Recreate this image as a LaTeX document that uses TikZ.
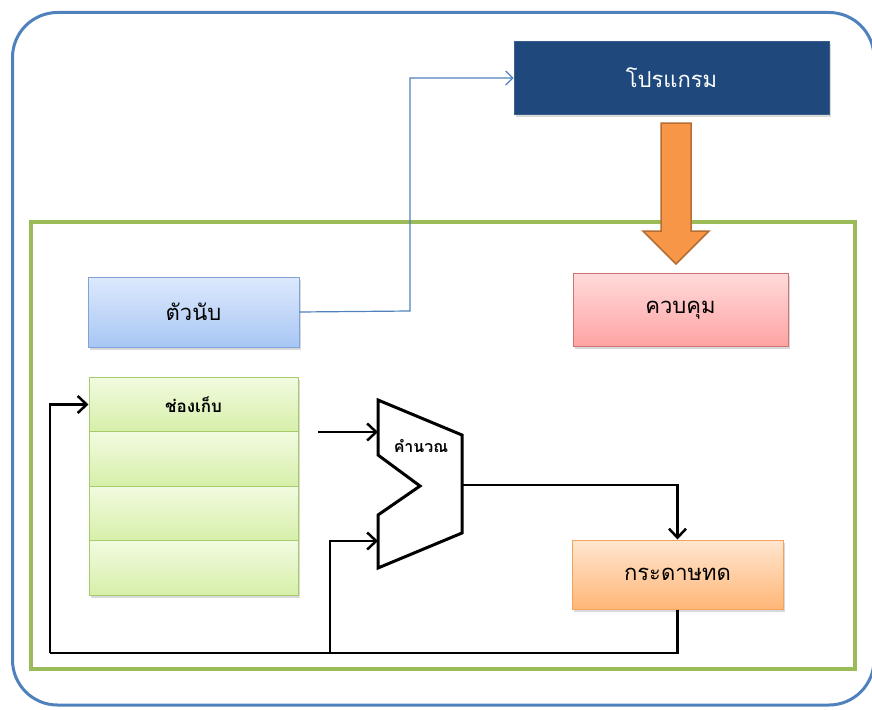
\documentclass[tikz,border=0pt]{standalone}
\usepackage{fontspec}
\newfontfamily\thaifont[Script=Thai]{Loma}
\usetikzlibrary{arrows.meta,shadows}
\definecolor{outerblue}{HTML}{4F81BD}
\definecolor{greenline}{HTML}{9BBB59}
\definecolor{progfill}{HTML}{1F497D}
\definecolor{progline}{HTML}{3A5F8F}
\definecolor{cntTop}{HTML}{DDE9FD}
\definecolor{cntBot}{HTML}{A8C6F4}
\definecolor{cntLine}{HTML}{7FA3D8}
\definecolor{ctlTop}{HTML}{FFDADA}
\definecolor{ctlBot}{HTML}{FFA3A3}
\definecolor{ctlLine}{HTML}{CF7272}
\definecolor{regTop}{HTML}{F2FBE0}
\definecolor{regBot}{HTML}{D6EFA9}
\definecolor{regLine}{HTML}{A6CB6A}
\definecolor{scrTop}{HTML}{FFE6D0}
\definecolor{scrBot}{HTML}{FFB677}
\definecolor{scrLine}{HTML}{F2A35C}
\definecolor{arrFill}{HTML}{F79646}
\definecolor{arrLine}{HTML}{B66D31}
\definecolor{linkblue}{HTML}{4F81BD}
\begin{document}
\begin{tikzpicture}[x=1pt,y=-1pt,
  box/.style={rectangle,inner sep=0pt,font=\thaifont\fontsize{22}{26}\selectfont,
     drop shadow={shadow xshift=1.5pt,shadow yshift=-2.5pt,opacity=0.3}},
  regbox/.style={box,minimum width=209pt,minimum height=54.5pt,draw=regLine,line width=1pt,
     top color=regTop,bottom color=regBot},
  wire/.style={black,line width=2.5pt},
  wirearrow/.style={wire,-{Straight Barb[length=9pt,width=17pt,line width=2.5pt]}}
  ]
\useasboundingbox (0,0) rectangle (872,709);
% outer frame
\draw[outerblue,line width=3pt,rounded corners=45pt] (12.5,12.5) rectangle (874,705);
% green frame
\draw[greenline,line width=3.5pt] (31,222) rectangle (855,669);
% program
\node[box,draw=progline,line width=1pt,fill=progfill,text=white,
  minimum width=315pt,minimum height=72pt] (prog) at (671.5,78) {โปรแกรม};
% counter
\node[box,draw=cntLine,line width=1pt,top color=cntTop,bottom color=cntBot,
  minimum width=211pt,minimum height=70pt] (cnt) at (193.5,312) {ตัวนับ};
% control
\node[box,draw=ctlLine,line width=1pt,top color=ctlTop,bottom color=ctlBot,
  minimum width=215pt,minimum height=73pt] (ctl) at (680.5,310) {ควบคุม};
% scratch
\node[box,draw=scrLine,line width=1pt,top color=scrTop,bottom color=scrBot,
  minimum width=211pt,minimum height=69pt] (scr) at (677.5,574.5) {กระดาษทด};
% registers
\node[regbox,font=\thaifont\bfseries\fontsize{17}{20}\selectfont] (r1) at (193.5,404.5) {ช่องเก็บ};
\node[regbox] (r2) at (193.5,459) {};
\node[regbox] (r3) at (193.5,513.5) {};
\node[regbox] (r4) at (193.5,568) {};
% big orange arrow
\draw[arrLine,fill=arrFill,line width=1.5pt,line join=miter]
  (661,123) -- (691,123) -- (691,231) -- (709,231) -- (676,264) -- (643,231) -- (661,231) -- cycle;
% ALU
\coordinate (a1) at (378,400);
\coordinate (a2) at (462,435);
\coordinate (a3) at (462,533);
\coordinate (a4) at (378,568);
\coordinate (a5) at (378,515);
\coordinate (a6) at (420,486);
\coordinate (a7) at (378,455);
\draw[line width=3pt,line join=miter,fill=white] (a1) -- (a2) -- (a3) -- (a4) -- (a5) -- (a6) -- (a7) -- cycle;
\node[font=\thaifont\bfseries\fontsize{16}{19}\selectfont,inner sep=0pt] (alulbl) at (421,446) {คำนวณ};
\coordinate (ain1) at (378,432);
\coordinate (ain2) at (378,541);
\coordinate (aout) at (462,485);
% wires
\coordinate (src1) at (318,432);
\draw[wirearrow] (src1) -- (ain1);
\coordinate (loopL) at (50,653);
\coordinate (loopM) at (330,653);
\draw[wirearrow] (aout) -| (scr.north);
\draw[wire,line join=miter] (scr.south) |- (loopL);
\draw[wirearrow] (loopL) |- (r1.west);
\draw[wirearrow] (loopM) |- (ain2);
% counter to program
\coordinate (turn) at (410,311);
\draw[linkblue,line width=1.2pt,-{Straight Barb[length=7pt,width=14pt,line width=1.2pt]}]
  (cnt.east) -- (turn) |- (prog.west);
\end{tikzpicture}
\end{document}
